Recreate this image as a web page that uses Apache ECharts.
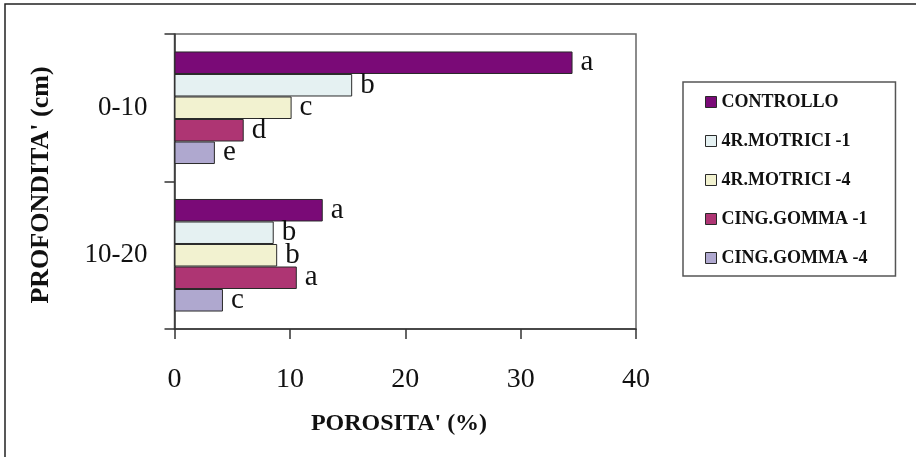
<!DOCTYPE html>
<html>
<head>
<meta charset="utf-8">
<script src="https://cdn.jsdelivr.net/npm/echarts@6/dist/echarts.min.js"></script>
<style>
  html, body { margin: 0; padding: 0; background: #fff; }
  #chart { width: 916px; height: 457px; }
</style>
</head>
<body>
<div id="chart"></div>
<script>
// Soil porosity by depth layer and traffic treatment
const depths = ['0-10', '10-20'];
const seriesNames = ['CONTROLLO', '4R.MOTRICI -1', '4R.MOTRICI -4', 'CING.GOMMA -1', 'CING.GOMMA -4'];

const controllo   = [34.5, 12.85];
const motrici1    = [15.4, 8.6];
const motrici4    = [10.15, 8.9];
const gomma1      = [6.0, 10.6];
const gomma4      = [3.5, 4.2];

// significance letters shown next to each bar
const lettersControllo = ['a', 'a'];
const lettersMotrici1  = ['b', 'b'];
const lettersMotrici4  = ['c', 'b'];
const lettersGomma1    = ['d', 'a'];
const lettersGomma4    = ['e', 'c'];

const xTicks = [0, 10, 20, 30, 40];

const values = [controllo, motrici1, motrici4, gomma1, gomma4];
const letters = [lettersControllo, lettersMotrici1, lettersMotrici4, lettersGomma1, lettersGomma4];
const colors = ['#7a0a77', '#e5f1f2', '#f2f2d0', '#ae3573', '#afa8cf'];

const SERIF = "'Liberation Serif', 'Times New Roman', serif";

const chart = echarts.init(document.getElementById('chart'));

const series = seriesNames.map((name, i) => ({
  name: name,
  type: 'bar',
  data: values[i],
  barGap: 0,
  barCategoryGap: '23.7%',
  itemStyle: { color: colors[i], borderColor: '#2a2a2a', borderWidth: 1 },
  label: {
    show: true,
    position: 'right',
    distance: 8,
    fontFamily: SERIF,
    fontSize: 29,
    color: '#111',
    formatter: p => letters[i][p.dataIndex]
  },
  emphasis: { disabled: true }
}));

chart.setOption({
  animation: false,
  backgroundColor: '#fff',
  grid: {
    left: 174.5, right: 280, top: 34, bottom: 128,
    show: true, borderColor: '#666', borderWidth: 1.5, backgroundColor: 'transparent'
  },
  xAxis: {
    type: 'value',
    min: xTicks[0],
    max: xTicks[xTicks.length - 1],
    interval: xTicks[1] - xTicks[0],
    splitLine: { show: false },
    axisLine: { show: true, lineStyle: { color: '#333', width: 1.5 } },
    axisTick: { show: true, length: 10, lineStyle: { color: '#333', width: 1.5 } },
    axisLabel: { fontFamily: SERIF, fontSize: 28, color: '#111', margin: 37 }
  },
  yAxis: {
    type: 'category',
    data: depths,
    inverse: true,
    axisLine: { show: true, lineStyle: { color: '#333', width: 1.5 } },
    axisTick: { show: true, length: 10, lineStyle: { color: '#333', width: 1.5 } },
    axisLabel: { fontFamily: SERIF, fontSize: 27, color: '#111', margin: 27 }
  },
  legend: {
    orient: 'vertical',
    left: 683, top: 82,
    padding: [11, 28, 9, 22],
    itemGap: 21,
    itemWidth: 11, itemHeight: 11,
    icon: 'rect',
    backgroundColor: '#fff',
    borderColor: '#555', borderWidth: 1.5,
    textStyle: { fontFamily: SERIF, fontSize: 18, fontWeight: 'bold', color: '#111' },
    itemStyle: { borderColor: '#2a2a2a', borderWidth: 1 },
    data: seriesNames
  },
  graphic: [
    {
      type: 'rect', silent: true, z: -1,
      shape: { x: 5, y: 4, width: 1000, height: 1000 },
      style: { fill: 'none', stroke: '#222', lineWidth: 1.5 }
    },
    {
      type: 'text', silent: true,
      x: 399, y: 424,
      style: {
        text: "POROSITA' (%)", x: 0, y: 0,
        align: 'center', verticalAlign: 'middle',
        font: "bold 24px 'Liberation Serif', 'Times New Roman', serif", fill: '#111'
      }
    },
    {
      type: 'text', silent: true,
      x: 41, y: 185, rotation: Math.PI / 2,
      style: {
        text: "PROFONDITA' (cm)", x: 0, y: 0,
        align: 'center', verticalAlign: 'middle',
        font: "bold 26px 'Liberation Serif', 'Times New Roman', serif", fill: '#111'
      }
    }
  ],
  series: series
});
</script>
</body>
</html>
